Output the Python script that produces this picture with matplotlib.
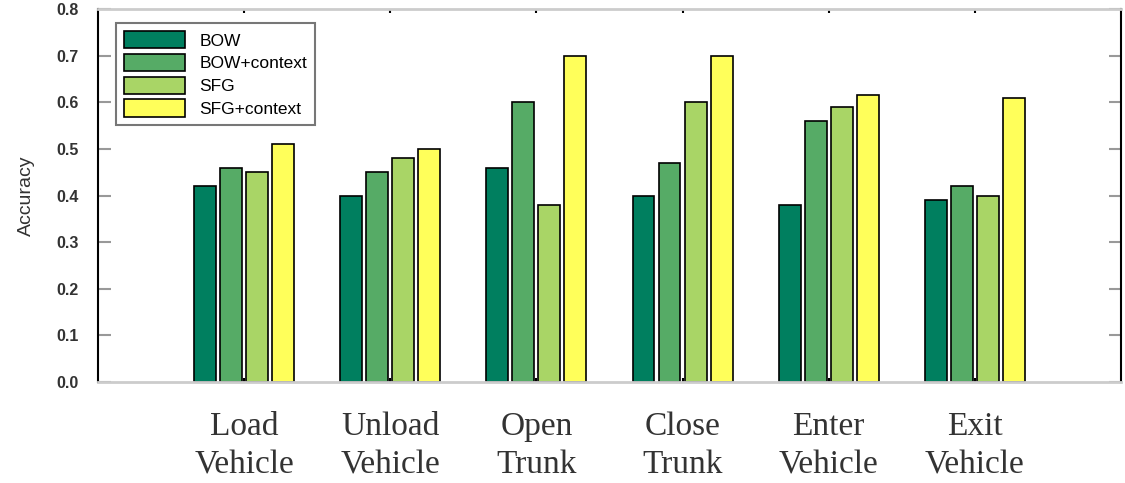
import numpy as np
import matplotlib
matplotlib.use('Agg')
import matplotlib.pyplot as plt

# accuracy per action, one list per method
actions = ['Load\nVehicle', 'Unload\nVehicle', 'Open\nTrunk', 'Close\nTrunk', 'Enter\nVehicle', 'Exit\nVehicle']
methods = ['BOW', 'BOW+context', 'SFG', 'SFG+context']
bow = [0.42, 0.40, 0.46, 0.40, 0.38, 0.39]
bow_context = [0.46, 0.45, 0.60, 0.47, 0.56, 0.42]
sfg = [0.45, 0.48, 0.38, 0.60, 0.59, 0.40]
sfg_context = [0.51, 0.50, 0.70, 0.70, 0.615, 0.61]

colors = ['#007F5F', '#56AB66', '#A9D566', '#FFFF5A']

plt.rcParams['font.family'] = ['Liberation Sans', 'DejaVu Sans']

fig = plt.figure(figsize=(11.25, 4.83), dpi=100)
ax = fig.add_axes([0.0871, 0.209, 0.9093, 0.772])

x = np.arange(len(actions))
step = 0.178
width = 0.15
series = [bow, bow_context, sfg, sfg_context]
for k, vals in enumerate(series):
    ax.bar(x + (k - 1.5) * step, vals, width, color=colors[k],
           edgecolor='black', linewidth=1.2, label=methods[k])

ax.set_xlim(-1, 6)
ax.set_ylim(0, 0.8)
ax.set_xticks(x)
ax.set_xticklabels(actions, family=['Liberation Serif'], fontsize=24, color='#333333',
                   linespacing=1.35)
ax.set_yticks(np.arange(0, 0.81, 0.1))
ax.set_yticklabels(['%.1f' % v for v in np.arange(0, 0.81, 0.1)], fontsize=11.5,
                   fontweight='bold', color='#333333')
ax.tick_params(axis='y', direction='in', length=9, width=1.5, color='#999999',
               right=True, pad=14)
ax.tick_params(axis='x', direction='in', length=3, width=1.5, color='black',
               top=True, pad=21)

for side in ['left', 'right']:
    ax.spines[side].set_color('black')
    ax.spines[side].set_linewidth(1.5)
for side in ['top', 'bottom']:
    ax.spines[side].set_color('#cccccc')
    ax.spines[side].set_linewidth(2)

ax.set_ylabel('Accuracy', fontsize=14, color='#333333', labelpad=15)

leg = ax.legend(loc='upper left', bbox_to_anchor=(0.009, 0.985), fontsize=12.5,
                handlelength=3.55, handleheight=1.15, labelspacing=0.3,
                handletextpad=0.8, borderpad=0.45, fancybox=False, framealpha=1)
leg.get_frame().set_edgecolor('#777777')
leg.get_frame().set_linewidth(1.5)
for p in leg.get_patches():
    p.set_linewidth(1.2)

fig.savefig('out.png', dpi=100)
